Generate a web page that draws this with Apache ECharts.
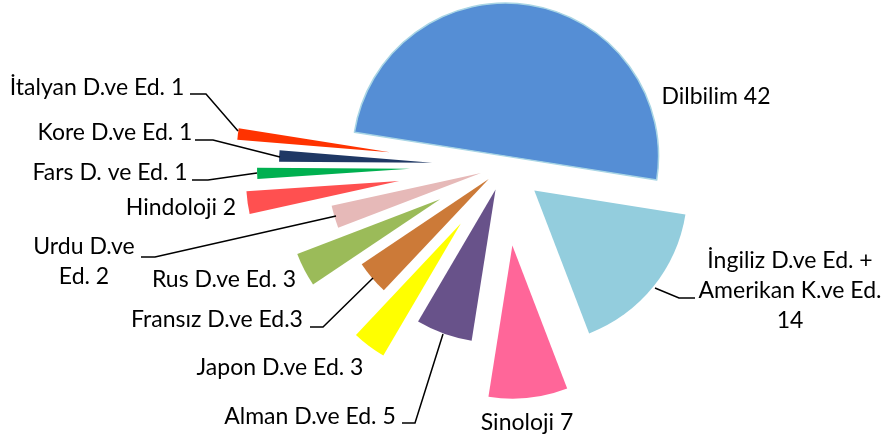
<!DOCTYPE html>
<html><head><meta charset="utf-8">
<script src="https://cdn.jsdelivr.net/npm/echarts@6/dist/echarts.min.js"></script>
<style>html,body{margin:0;padding:0;background:#fff}#c{width:888px;height:441px}</style>
</head><body><div id="c"></div>
<script>
const categories = ['Dilbilim','İngiliz D.ve Ed. + Amerikan K.ve Ed.','Sinoloji','Alman D.ve Ed.','Japon D.ve Ed.','Fransız D.ve Ed.','Rus D.ve Ed.','Urdu D.ve Ed.','Hindoloji','Fars D. ve Ed.','Kore D.ve Ed.','İtalyan D.ve Ed.'];
const values = [42,14,7,5,3,3,3,2,2,1,1,1];
const labelTexts = ['Dilbilim 42','İngiliz D.ve Ed. +\nAmerikan K.ve Ed.\n14','Sinoloji 7','Alman D.ve Ed. 5','Japon D.ve Ed. 3','Fransız D.ve Ed.3','Rus D.ve Ed. 3','Urdu D.ve\nEd. 2','Hindoloji 2','Fars D. ve Ed. 1','Kore D.ve Ed. 1','İtalyan D.ve Ed. 1'];
const colors = ['#558ED5','#93CDDD','#FF6699','#68528A','#FFFF00','#CC7A38','#9BBB59','#E6B9B8','#FF5050','#00B050','#1F3864','#FF3300'];
const explode = [10,39,80,25,72,20,72,24,106,94,72,115];
const labelPos = [[716,97],[790,291],[527,423],[310,417],[280,368],[217,320],[224,280],[84,262],[181,208],[110,173],[115,133],[97,88]];
const leaders = [null,[[655,288],[679,298],[695,298]],null,[[443,334],[415,423],[402,423]],null,[[373,278],[323,327],[310,327]],null,[[336,216],[155,257],[141,257]],null,[[257,173],[208,180],[192,180]],[[280,157],[213,140],[195,140]],[[238,131],[206,94],[190,94]]];

const common = {type:'pie', center:[504,166], radius:153, startAngle:171, clockwise:true,
  avoidLabelOverlap:false, minAngle:0, silent:true, animation:false};
const series = values.map((v,i)=>{
  const on = j => j===i;
  return Object.assign({}, common, {
    name:'slice'+i, selectedMode:'multiple', selectedOffset: explode[i], z:2,
    label:{show:false}, labelLine:{show:false}, emphasis:{disabled:true},
    data: categories.map((c,j)=>{
      const st = on(j) ? {color:colors[j], borderColor: j===0 ? '#A8D5E5' : colors[j], borderWidth: j===0 ? 1.5 : 0}
                       : {color:'rgba(0,0,0,0)', borderWidth:0};
      return {name:c, value:values[j], selected:on(j), itemStyle:st, select:{itemStyle:st}};
    })
  });
});
series.push(Object.assign({}, common, {
  name:'labels', z:5, selectedMode:false, emphasis:{disabled:true},
  itemStyle:{color:'rgba(0,0,0,0)', borderWidth:0},
  label:{show:true, position:'outside', formatter:p=>labelTexts[p.dataIndex],
    fontFamily:'Lato', fontSize:23, color:'#000', lineHeight:30, align:'center'},
  labelLine:{show:true, smooth:false, lineStyle:{color:'#000', width:1.5}},
  labelLayout: p => {
    const i = p.dataIndex;
    const o = {x:labelPos[i][0], y:labelPos[i][1], align:'center', verticalAlign:'middle'};
    if (leaders[i]) o.labelLinePoints = leaders[i];
    return o;
  },
  data: categories.map((c,j)=>({name:c, value:values[j], labelLine:{show: !!leaders[j]}}))
}));
const chart = echarts.init(document.getElementById('c'), null, {renderer:'canvas'});
chart.setOption({animation:false, backgroundColor:'#fff', series});
</script></body></html>
